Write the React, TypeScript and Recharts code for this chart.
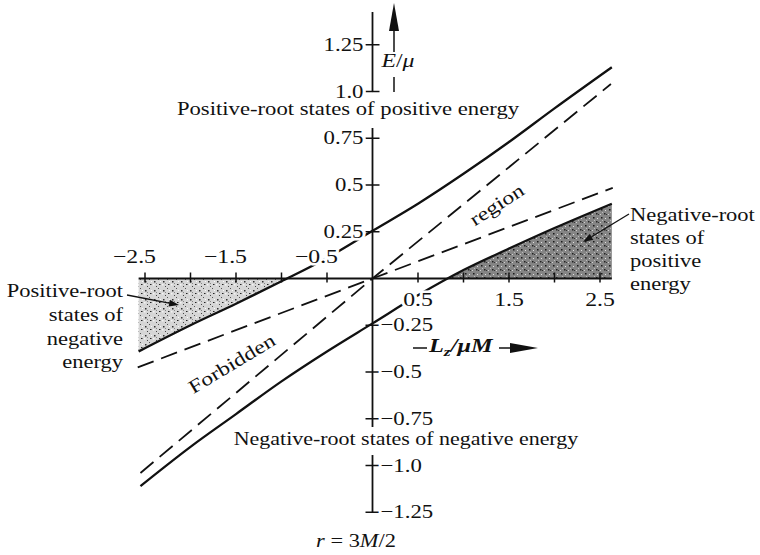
import React from 'react';
import {
  ComposedChart,
  Line,
  Area,
  XAxis,
  YAxis,
  ReferenceLine,
  ReferenceDot,
} from 'recharts';

// L_z/μM sample points and E/μ values (r = 3M/2)
const upperL = [-2.57, -2, -1.5, -1, -0.5, 0, 0.5, 1, 1.5, 2, 2.63];
const upperE = [-0.39, -0.25, -0.135, -0.015, 0.11, 0.255, 0.4, 0.56, 0.73, 0.91, 1.13];
const lowerL = [-2.55, -2, -1.5, -1, -0.5, 0, 0.5, 1, 1.5, 2, 2.63];
const lowerE = [-1.11, -0.9, -0.725, -0.55, -0.39, -0.24, -0.09, 0.045, 0.16, 0.27, 0.4];

// dashed asymptotes through the origin
const steepL = [-2.55, 0, 2.62];
const steepE = [-1.04, 0, 1.04];
const shallowL = [-2.58, 0, 2.64];
const shallowE = [-0.475, 0, 0.485];

// shaded (allowed) regions between the curve and E = 0
const shadeLeftL = [-2.57, -2, -1.5, -1, -0.94];
const shadeLeftE = [-0.39, -0.25, -0.135, -0.015, 0];
const shadeRightL = [0.82, 1, 1.5, 2, 2.63];
const shadeRightE = [0, 0.045, 0.16, 0.27, 0.4];

const xTicks = [-2.5, -2, -1.5, -1, -0.5, 0.5, 1, 1.5, 2, 2.5];
const xTickLabels = ['\u22122.5', '', '\u22121.5', '', '\u22120.5', '0.5', '', '1.5', '', '2.5'];
const yTicks = [1.25, 1.0, 0.75, 0.5, 0.25, -0.25, -0.5, -0.75, -1.0, -1.25];
const yTickLabels = ['1.25', '1.0', '0.75', '0.5', '0.25', '\u22120.25', '\u22120.5', '\u22120.75', '\u22121.0', '\u22121.25'];

const pts = (xs: number[], ys: number[]) => xs.map((L, i) => ({ L, E: ys[i] }));

const FONT = "'Liberation Serif', 'Times New Roman', serif";
const INK = '#111';

const T = ({ x, y, anchor = 'start', size = 18, sx = 1.25, rotate = 0, italic = false, bold = false, halo = false, children }: any) => (
  <text
    transform={`translate(${x} ${y}) rotate(${rotate}) scale(${sx} 1)`}
    textAnchor={anchor}
    fontSize={size}
    fontFamily={FONT}
    fontStyle={italic ? 'italic' : 'normal'}
    fontWeight={bold ? 'bold' : 'normal'}
    fill={INK}
    stroke={halo ? '#fff' : 'none'}
    strokeWidth={halo ? 5 : 0}
    paintOrder="stroke"
  >
    {children}
  </text>
);

const Arrow = ({ x1, y1, x2, y2, head = 9, half = 3.5, w = 1.3 }: any) => {
  const dx = x2 - x1;
  const dy = y2 - y1;
  const n = Math.hypot(dx, dy);
  const ux = dx / n;
  const uy = dy / n;
  const bx = x2 - head * ux;
  const by = y2 - head * uy;
  return (
    <g>
      <line x1={x1} y1={y1} x2={bx} y2={by} stroke={INK} strokeWidth={w} />
      <polygon
        points={`${x2},${y2} ${bx - half * uy},${by + half * ux} ${bx + half * uy},${by - half * ux}`}
        fill={INK}
      />
    </g>
  );
};

const XTickMark = ({ cx, cy, label, neg }: any) => (
  <g>
    <line x1={cx} y1={cy - 6} x2={cx} y2={cy + 4} stroke={INK} strokeWidth={1.5} />
    {label ? (
      neg ? (
        <T x={cx + 11} y={cy - 16} anchor="end" size={19} sx={1.25} halo>{label}</T>
      ) : (
        <T x={cx} y={cy + 27} anchor="middle" size={19} sx={1.25} halo>{label}</T>
      )
    ) : null}
  </g>
);

const YTickMark = ({ cx, cy, label, neg }: any) => (
  <g>
    <line x1={cx - 7} y1={cy} x2={cx + 7} y2={cy} stroke={INK} strokeWidth={1.5} />
    {neg ? (
      <T x={cx + 8} y={cy + 6} anchor="start" size={19} sx={1.2} halo>{label}</T>
    ) : (
      <T x={cx - 9} y={cy + 6} anchor="end" size={19} sx={1.2} halo>{label}</T>
    )}
  </g>
);

const Specks = () => (
  <svg width={0} height={0} style={{ position: 'absolute' }}>
    <defs>
      <pattern id="speckLight" width={9} height={9} patternUnits="userSpaceOnUse">
        <rect width={9} height={9} fill="#d6d6d6" />
        <rect x={1} y={2} width={1.5} height={1.5} fill="#333" />
        <rect x={5} y={0} width={1} height={1} fill="#555" />
        <rect x={6} y={5} width={1.5} height={1} fill="#222" />
        <rect x={3} y={7} width={1} height={1} fill="#444" />
        <rect x={0} y={5} width={1.5} height={1.5} fill="#f4f4f4" />
        <rect x={7} y={2} width={1} height={1} fill="#fafafa" />
        <rect x={3} y={4} width={1} height={1} fill="#888" />
      </pattern>
      <pattern id="speckDark" width={8} height={8} patternUnits="userSpaceOnUse">
        <rect width={8} height={8} fill="#858585" />
        <rect x={1} y={1} width={1.5} height={1.5} fill="#1a1a1a" />
        <rect x={5} y={2} width={1} height={1} fill="#e0e0e0" />
        <rect x={4} y={5} width={1.5} height={1.5} fill="#222" />
        <rect x={0} y={6} width={1} height={1} fill="#d0d0d0" />
        <rect x={6} y={6} width={1} height={1} fill="#333" />
        <rect x={2} y={4} width={1} height={1} fill="#bbb" />
      </pattern>
    </defs>
  </svg>
);

const Annotations = () => (
  <svg
    width={760}
    height={555}
    style={{ position: 'absolute', left: 0, top: 0, pointerEvents: 'none' }}
  >
    {/* E/mu arrow on the vertical axis */}
    <Arrow x1={394} y1={52} x2={394} y2={3} head={28} half={5} w={1.5} />
    <line x1={394} y1={77} x2={394} y2={92} stroke={INK} strokeWidth={1.5} />
    <T x={398} y={67} anchor="middle" size={19}>
      <tspan fontStyle="italic">E</tspan>/<tspan fontStyle="italic">μ</tspan>
    </T>

    {/* L_z / mu M arrow */}
    <line x1={413} y1={348} x2={427} y2={348} stroke={INK} strokeWidth={1.5} />
    <T x={429} y={352} italic bold sx={1.35}>
      L<tspan fontSize={13} dy={4}>z</tspan>
      <tspan dy={-4}>/μM</tspan>
    </T>
    <Arrow x1={499} y1={348} x2={538} y2={348} head={28} half={5} w={1.5} />

    <T x={348} y={115} anchor="middle" sx={1.26}>Positive-root states of positive energy</T>
    <T x={406} y={445} anchor="middle" sx={1.22}>Negative-root states of negative energy</T>

    <T x={123} y={297} anchor="end">Positive-root</T>
    <T x={123} y={321} anchor="end">states of</T>
    <T x={123} y={345} anchor="end">negative</T>
    <T x={123} y={368} anchor="end">energy</T>
    <Arrow x1={127} y1={295} x2={179} y2={305} head={10} half={3.5} />

    <T x={630} y={221} anchor="start">Negative-root</T>
    <T x={630} y={244} anchor="start">states of</T>
    <T x={630} y={267} anchor="start">positive</T>
    <T x={630} y={290} anchor="start">energy</T>
    <Arrow x1={629} y1={214} x2={583} y2={242} head={10} half={3.5} />

    <g transform="translate(497 205) rotate(-33)">
      <T x={0} y={6} anchor="middle" size={19}>region</T>
    </g>
    <g transform="translate(232 364) rotate(-31)">
      <T x={0} y={6} anchor="middle" size={19}>Forbidden</T>
    </g>

    <T x={356} y={547} anchor="middle" size={19} sx={1.18}>
      <tspan fontStyle="italic">r</tspan> = 3<tspan fontStyle="italic">M</tspan>/2
    </T>
  </svg>
);

export default function App() {
  return (
    <div style={{ position: 'absolute', left: 0, top: 0, width: 760, height: 555, background: '#fff' }}>
      <Specks />
      <ComposedChart
        width={760}
        height={555}
        margin={{ top: 7.35, right: 23.5, bottom: 5.35, left: 8.5 }}
      >
        <XAxis type="number" dataKey="L" domain={[-4, 4]} hide allowDataOverflow />
        <YAxis type="number" dataKey="E" domain={[-1.45, 1.45]} hide allowDataOverflow />

        <Area
          data={pts(shadeLeftL, shadeLeftE)}
          dataKey="E"
          type="monotone"
          baseValue={0}
          stroke="none"
          fill="url(#speckLight)"
          fillOpacity={1}
          isAnimationActive={false}
        />
        <Area
          data={pts(shadeRightL, shadeRightE)}
          dataKey="E"
          type="monotone"
          baseValue={0}
          stroke="none"
          fill="url(#speckDark)"
          fillOpacity={1}
          isAnimationActive={false}
        />

        {/* axes drawn through the origin */}
        <ReferenceLine segment={[{ x: -2.57, y: 0 }, { x: 2.63, y: 0 }]} stroke={INK} strokeWidth={2} />
        <ReferenceLine segment={[{ x: 0, y: 1.425 }, { x: 0, y: 0.997 }]} stroke={INK} strokeWidth={1.8} />
        <ReferenceLine segment={[{ x: 0, y: 0.805 }, { x: 0, y: -0.794 }]} stroke={INK} strokeWidth={1.8} />
        <ReferenceLine segment={[{ x: 0, y: -0.944 }, { x: 0, y: -1.25 }]} stroke={INK} strokeWidth={1.8} />

        <Line
          data={pts(steepL, steepE)}
          dataKey="E"
          type="linear"
          stroke={INK}
          strokeWidth={1.8}
          strokeDasharray="17 8"
          dot={false}
          isAnimationActive={false}
        />
        <Line
          data={pts(shallowL, shallowE)}
          dataKey="E"
          type="linear"
          stroke={INK}
          strokeWidth={1.8}
          strokeDasharray="17 8"
          dot={false}
          isAnimationActive={false}
        />
        <Line
          data={pts(upperL, upperE)}
          dataKey="E"
          type="monotone"
          stroke={INK}
          strokeWidth={2.3}
          dot={false}
          isAnimationActive={false}
        />
        <Line
          data={pts(lowerL, lowerE)}
          dataKey="E"
          type="monotone"
          stroke={INK}
          strokeWidth={2.3}
          dot={false}
          isAnimationActive={false}
        />

        {/* tick marks and labels, drawn last so the labels mask the curves */}
        {xTicks.map((v, i) => (
          <ReferenceDot
            key={'xt' + i}
            x={v}
            y={0}
            r={0}
            zIndex={3000}
            shape={(p: any) => <XTickMark cx={p.cx} cy={p.cy} label={xTickLabels[i]} neg={v < 0} />}
          />
        ))}
        {yTicks.map((v, i) => (
          <ReferenceDot
            key={'yt' + i}
            x={0}
            y={v}
            r={0}
            zIndex={3000}
            shape={(p: any) => <YTickMark cx={p.cx} cy={p.cy} label={yTickLabels[i]} neg={v < 0} />}
          />
        ))}
      </ComposedChart>
      <Annotations />
    </div>
  );
}
